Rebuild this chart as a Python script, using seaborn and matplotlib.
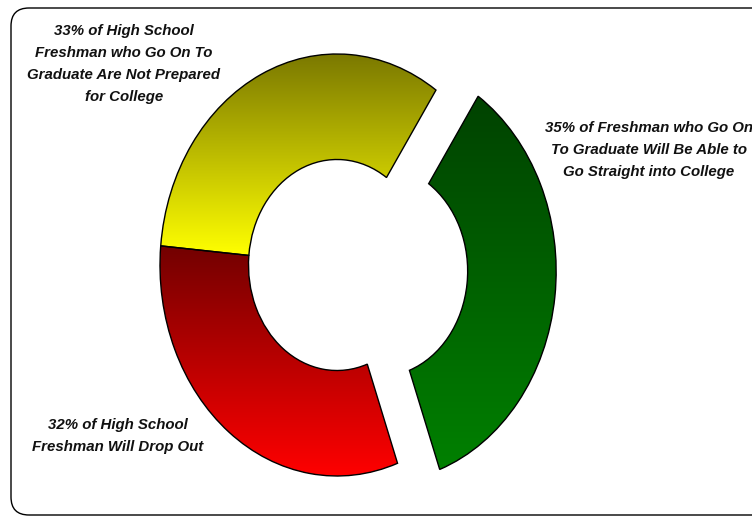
import numpy as np
import matplotlib
matplotlib.use('Agg')
import matplotlib.pyplot as plt
import matplotlib.patches as mpatches
from matplotlib.transforms import IdentityTransform
from matplotlib.colors import LinearSegmentedColormap
import seaborn as sns

# Chart data
shares = [35, 32, 33]
labels = [
    '35% of Freshman who Go On\nTo Graduate Will Be Able to\nGo Straight into College',
    '32% of High School\nFreshman Will Drop Out',
    '33% of High School\nFreshman who Go On To\nGraduate Are Not Prepared\nfor College',
]
top_colors = ['#004200', '#720000', '#7a7800']
bottom_colors = ['#008000', '#ff0000', '#ffff00']
explode = [0.24, 0, 0]

sns.set_theme(style='white')
plt.rcParams['font.family'] = ['Liberation Sans', 'DejaVu Sans']

fig = plt.figure(figsize=(7.52, 5.16), dpi=100)
ax = fig.add_axes([0, 0, 1, 1])

wedges, _ = ax.pie(shares, explode=explode, startangle=56, counterclock=False,
                   radius=1.0, wedgeprops=dict(width=0.5, edgecolor='black', linewidth=1.0))

# vertical gradient inside every wedge (dark at top, bright at bottom)
grad = np.linspace(0, 1, 256).reshape(-1, 1)
for w, c_top, c_bot in zip(wedges, top_colors, bottom_colors):
    ext = w.get_path().get_extents()
    cmap = LinearSegmentedColormap.from_list('g', [c_bot, c_top])
    im = ax.imshow(grad, extent=[ext.x0, ext.x1, ext.y0, ext.y1], origin='lower',
                   aspect='auto', cmap=cmap, zorder=1, interpolation='bilinear')
    im.set_clip_path(w)
    w.set_facecolor('none')
    w.set_zorder(2)

# elliptical donut: axes limits stretch x vs y
ax.set_aspect('auto')
ax.set_xlim(-337 / 177, 415 / 177)
ax.set_ylim(-251 / 211, 265 / 211)
ax.axis('off')

# label texts
text_kw = dict(ha='center', va='center', fontsize=10.8, fontweight='bold',
               fontstyle='italic', linespacing=1.72, color='#111111')
fig.text(649 / 752, 1 - 150 / 516, labels[0], **text_kw)
fig.text(118 / 752, 1 - 436 / 516, labels[1], **text_kw)
fig.text(124 / 752, 1 - 64 / 516, labels[2], **text_kw)

# rounded chart border
border = mpatches.FancyBboxPatch((11, 1), 800, 507, boxstyle='round,pad=0,rounding_size=18',
                                 transform=IdentityTransform(), facecolor='none',
                                 edgecolor='black', linewidth=1.0)
fig.add_artist(border)

fig.savefig('out.png', dpi=100)
